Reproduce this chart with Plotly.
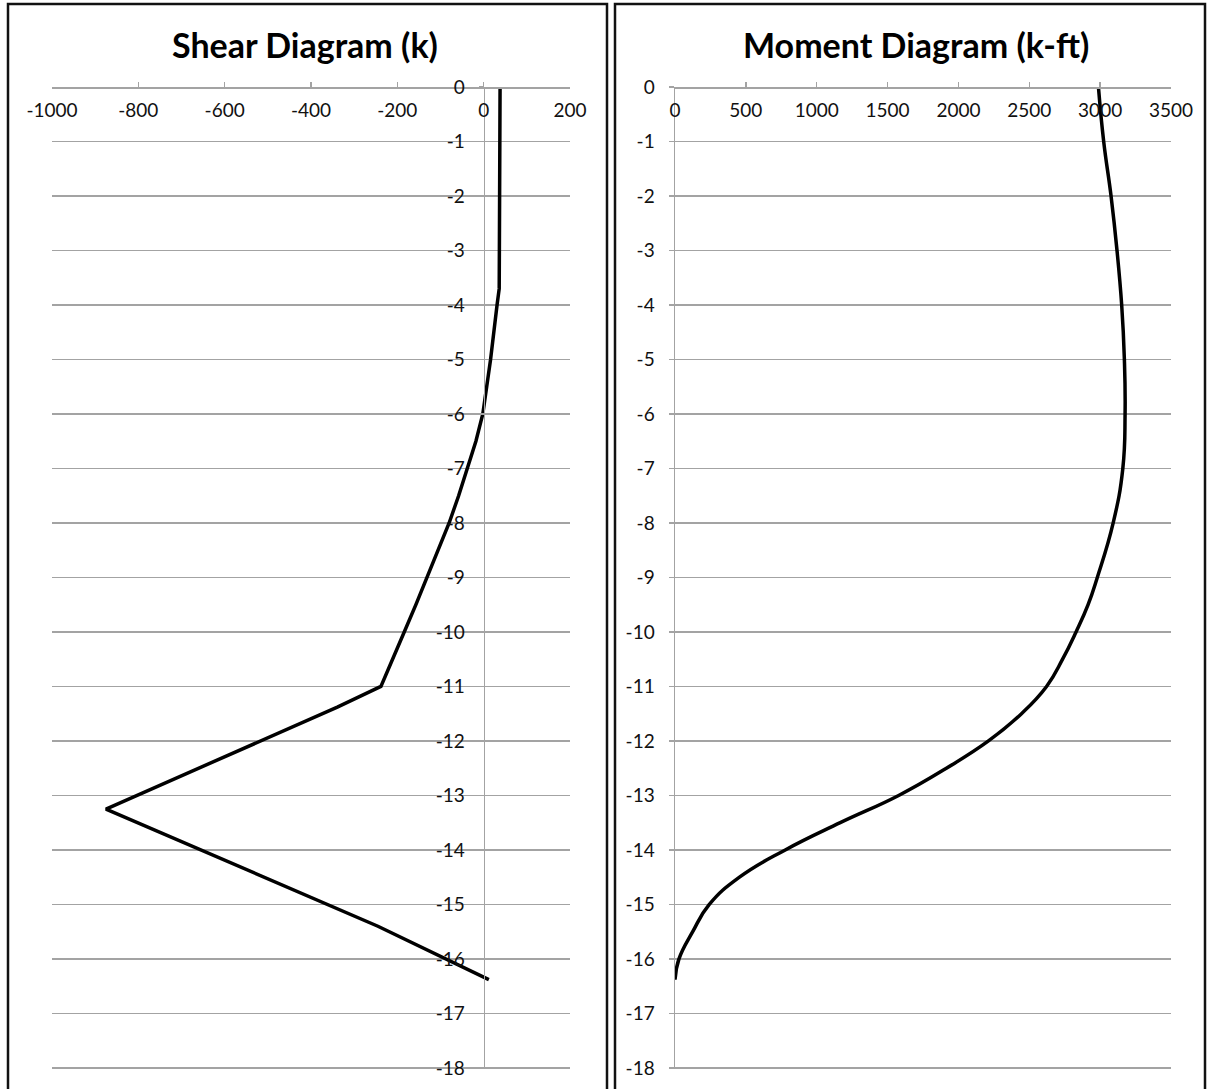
import plotly.graph_objects as go

# ---- data ----
shear_depth = [0, -3.3, -3.7, -4, -4.5, -5, -5.5, -6, -6.5, -7, -7.5, -8, -8.5, -9,
               -9.5, -10, -10.5, -11, -11.38, -13.25, -15.4, -16.38]
shear_value = [38, 38, 36, 31, 24, 16, 7, -2, -18, -37, -58, -80, -105, -131,
               -157, -184, -211, -238, -339, -875, -245, 12]

moment_depth = [0, -1, -2, -3, -4, -5, -6, -7, -8, -9, -9.5, -10, -10.5, -11, -11.5, -12,
                -12.5, -13, -13.5, -14, -14.5, -15, -15.5, -16, -16.38]
moment_value = [2988, 3025, 3077, 3119, 3152, 3171, 3176, 3160, 3092, 2980, 2915, 2830, 2735,
                2622, 2445, 2212, 1915, 1578, 1166, 778, 455, 242, 125, 28, 0]

shear_xticks = [-1000, -800, -600, -400, -200, 0, 200]
moment_xticks = [0, 500, 1000, 1500, 2000, 2500, 3000, 3500]
depth_ticks = list(range(0, -19, -1))

titles = ["Shear Diagram (k)", "Moment Diagram (k-ft)"]

W, H = 1209, 1089
def px(x):
    return x / W
def py(y):
    return 1 - y / H

GRID = "#a3a3a3"
TXT = "#111111"
FONT = "Lato"
tickfont = dict(family=FONT, size=19, color=TXT)

fig = go.Figure()
fig.add_trace(go.Scatter(x=shear_value, y=shear_depth, mode="lines",
                         line=dict(color="black", width=3.5),
                         xaxis="x", yaxis="y", showlegend=False, hoverinfo="skip"))
fig.add_trace(go.Scatter(x=moment_value, y=moment_depth, mode="lines",
                         line=dict(color="black", width=3.5, shape="spline", smoothing=1.3),
                         xaxis="x2", yaxis="y2", showlegend=False, hoverinfo="skip"))

ydom = [py(1069), py(87)]
left_dom = [px(52), px(570)]
right_dom = [px(675), px(1171)]
yaxis_pos = left_dom[0] + (0 - (-1000)) / 1200 * (left_dom[1] - left_dom[0])

common_x = dict(side="bottom", anchor="free", position=ydom[1], automargin=False,
                ticks="inside", ticklen=5,
                tickcolor=GRID, tickwidth=1.5, showline=True, linecolor=GRID, linewidth=1.5,
                showgrid=False, zeroline=False, tickfont=tickfont, ticklabelstandoff=6)
common_y = dict(range=[-18.02, 0], domain=ydom, tickvals=depth_ticks, automargin=False,
                ticktext=[str(v) for v in depth_ticks],
                showgrid=True, gridcolor=GRID, gridwidth=1.5,
                showline=True, linecolor=GRID, linewidth=1.5,
                ticks="outside", ticklen=5, tickcolor=GRID, tickwidth=1.5,
                zeroline=False, tickfont=tickfont, ticklabelstandoff=10)

fig.update_layout(
    template="none",
    width=W, height=H, autosize=False,
    margin=dict(l=0, r=0, t=0, b=0, pad=0, autoexpand=False),
    paper_bgcolor="white", plot_bgcolor="white",
    xaxis=dict(domain=left_dom, range=[-1000, 200],
               tickvals=shear_xticks, ticktext=[str(v) for v in shear_xticks], **common_x),
    yaxis=dict(anchor="free", position=yaxis_pos, **common_y),
    xaxis2=dict(domain=right_dom, range=[0, 3500],
                tickvals=moment_xticks, ticktext=[str(v) for v in moment_xticks], **common_x),
    yaxis2=dict(anchor="x2", **common_y),
    annotations=[
        dict(text="<b>%s</b>" % titles[0], x=px(305), y=py(45), xref="paper", yref="paper",
             showarrow=False, xanchor="center", yanchor="middle",
             font=dict(family=FONT, size=34, color="black")),
        dict(text="<b>%s</b>" % titles[1], x=px(916), y=py(45), xref="paper", yref="paper",
             showarrow=False, xanchor="center", yanchor="middle",
             font=dict(family=FONT, size=34, color="black")),
    ],
    shapes=[
        dict(type="rect", xref="paper", yref="paper", x0=px(8), x1=px(607), y0=-0.05, y1=py(4),
             line=dict(color="#111111", width=2.5), fillcolor="rgba(0,0,0,0)", layer="above"),
        dict(type="rect", xref="paper", yref="paper", x0=px(615), x1=px(1205), y0=-0.05, y1=py(4),
             line=dict(color="#111111", width=2.5), fillcolor="rgba(0,0,0,0)", layer="above"),
    ],
)

fig.write_html("out.html", config={"displayModeBar": False, "staticPlot": True},
               post_script="document.body.style.margin='0';document.body.style.overflow='hidden';")
